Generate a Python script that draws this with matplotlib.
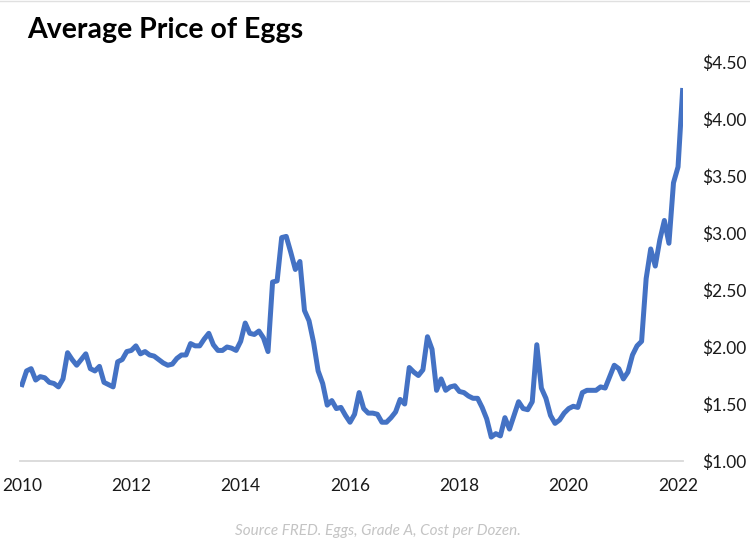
import matplotlib.pyplot as plt
import numpy as np

# monthly average price, Jan 2010 .. Feb 2022
prices = [
    1.67, 1.79, 1.81, 1.71, 1.74, 1.73, 1.69, 1.68, 1.65, 1.72, 1.95, 1.89,
    1.84, 1.89, 1.94, 1.81, 1.79, 1.83, 1.69, 1.67, 1.65, 1.87, 1.89, 1.96,
    1.97, 2.01, 1.94, 1.96, 1.93, 1.92, 1.89, 1.86, 1.84, 1.85, 1.90, 1.93,
    1.93, 2.03, 2.01, 2.01, 2.07, 2.12, 2.02, 1.97, 1.97, 2.00, 1.99, 1.97,
    2.05, 2.21, 2.12, 2.11, 2.14, 2.08, 1.96, 2.57, 2.58, 2.96, 2.97, 2.83,
    2.68, 2.75, 2.32, 2.23, 2.04, 1.79, 1.68, 1.49, 1.53, 1.46, 1.47, 1.40,
    1.34, 1.41, 1.60, 1.46, 1.42, 1.42, 1.41, 1.34, 1.34, 1.38, 1.43, 1.54,
    1.50, 1.82, 1.78, 1.75, 1.80, 2.09, 1.98, 1.62, 1.72, 1.62, 1.65, 1.66,
    1.61, 1.60, 1.57, 1.55, 1.55, 1.47, 1.37, 1.21, 1.24, 1.22, 1.38, 1.28,
    1.40, 1.52, 1.46, 1.45, 1.52, 2.02, 1.64, 1.55, 1.40, 1.33, 1.36, 1.42,
    1.46, 1.48, 1.47, 1.60, 1.62, 1.62, 1.62, 1.65, 1.64, 1.74, 1.84, 1.81,
    1.72, 1.78, 1.93, 2.01, 2.05, 2.60, 2.86, 2.71, 2.94, 3.11, 2.91, 3.44,
    3.58, 4.25,
]
years = 2010 + np.arange(len(prices)) / 12

year_ticks = [2010, 2012, 2014, 2016, 2018, 2020, 2022]
price_ticks = [1.0, 1.5, 2.0, 2.5, 3.0, 3.5, 4.0, 4.5]

plt.rcParams['font.family'] = ['Lato', 'DejaVu Sans']

fig = plt.figure(figsize=(7.5, 5.55), dpi=100)
ax = fig.add_axes([20 / 750, 94 / 555, 663 / 750, 399 / 555])

ax.plot(years, prices, color='#4472C4', linewidth=3.6, solid_joinstyle='round')

ax.set_xlim(2010 - 2 / 54.67, 2010 + 661 / 54.67)
ax.set_ylim(1.0, 4.5)

ax.set_xticks(year_ticks)
ax.set_xticklabels([str(y) for y in year_ticks])
ax.set_yticks(price_ticks)
ax.set_yticklabels([f"${p:.2f}" for p in price_ticks])
ax.yaxis.tick_right()
ax.tick_params(axis='both', length=0, labelsize=12.5, colors='#1a1a1a')
ax.tick_params(axis='y', pad=14)
ax.tick_params(axis='x', pad=12)

for side in ['top', 'left', 'right']:
    ax.spines[side].set_visible(False)
ax.spines['bottom'].set_color('#d9d9d9')
ax.spines['bottom'].set_linewidth(1.3)

fig.text(27 / 750, 1 - 30 / 555, "Average Price of Eggs", fontsize=20.5,
         fontweight='bold', va='center', ha='left', color='black')
fig.text(378 / 750, 1 - 531 / 555, "Source FRED. Eggs, Grade A, Cost per Dozen.",
         fontsize=11, style='italic', color='#c4c4c4', ha='center', va='center')

# thin frame line at the very top
fig.add_artist(plt.Line2D([0, 1], [1 - 1 / 555, 1 - 1 / 555], color='#e0e0e0',
                          linewidth=1, transform=fig.transFigure))

fig.savefig('out.png', dpi=100)
